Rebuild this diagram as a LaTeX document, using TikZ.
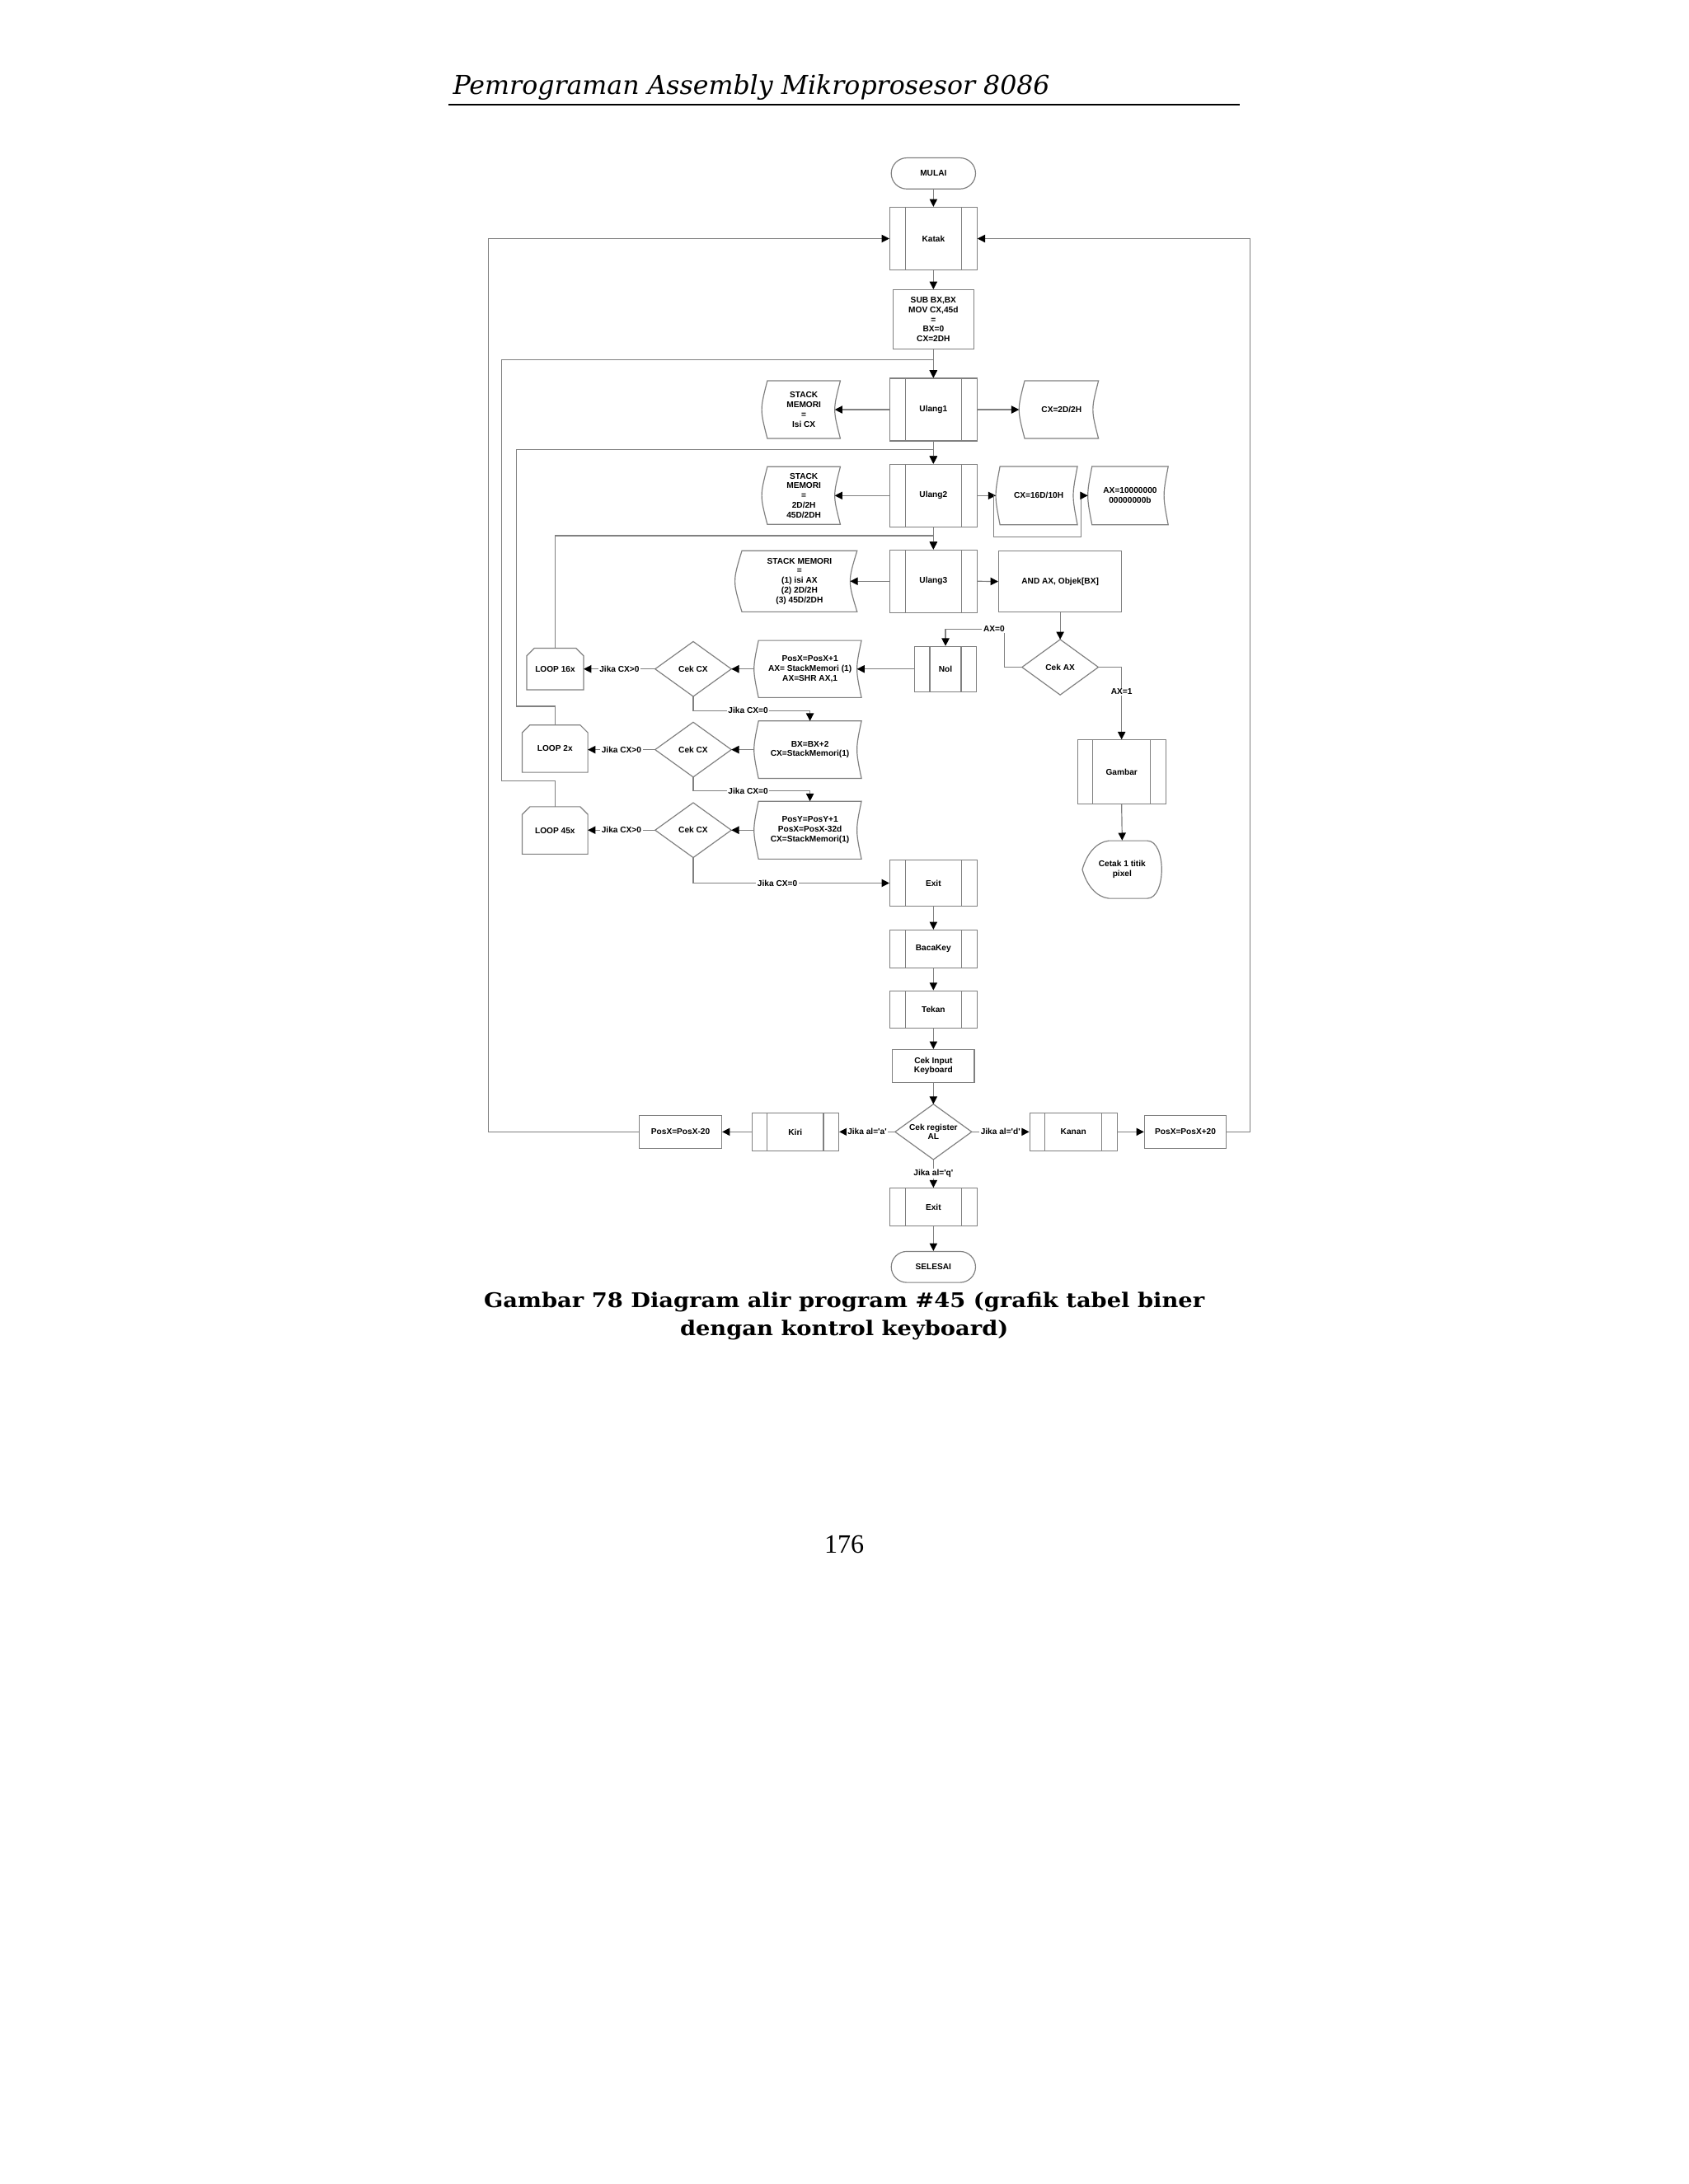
\documentclass[tikz,border=0pt]{standalone}
\usepackage{fontspec}
\usepackage{graphicx}
\usetikzlibrary{arrows.meta,calc,shapes.misc}
\setmainfont{Liberation Serif}
\newfontfamily\dfont{Liberation Sans}
\newfontfamily\hfont{DejaVu Serif}
\definecolor{lg}{HTML}{808080}
\tikzset{
 lbl/.style={font=\dfont\bfseries\fontsize{6}{7}\selectfont, align=center, inner sep=0pt, text=black},
 shp/.style={draw=lg, line width=0.7pt},
 term/.style={lbl, shp, rounded rectangle, minimum width=60.5pt, minimum height=22.3pt},
 pbox/.style={lbl, shp, rectangle},
 predef/.style={pbox, path picture={\draw[lg, line width=0.7pt]
   ([xshift=11pt]path picture bounding box.north west) -- ([xshift=11pt]path picture bounding box.south west)
   ([xshift=-11pt]path picture bounding box.north east) -- ([xshift=-11pt]path picture bounding box.south east);}},
 free/.style={lbl, rectangle},
 conn/.style={draw=lg, line width=0.7pt, -{Triangle[length=5.5pt,width=5.5pt,color=black,fill=black]}},
 tag/.style={lbl, fill=white, inner xsep=1pt, inner ysep=0.6pt},
 captxt/.style={font=\hfont\bfseries\fontsize{14.5}{19}\selectfont, anchor=base, inner sep=0pt},
}
\newcommand\mySD[2]{\draw[shp] (#1.north west) -- (#1.north east)
  .. controls ([xshift=-#2*1.333pt]#1.east) .. (#1.south east) -- (#1.south west)
  .. controls ([xshift=-#2*1.333pt]#1.west) .. (#1.north west) -- cycle;}
\newcommand\myLoop[1]{\draw[shp] (#1.south west) -- ([yshift=-5.5pt]#1.north west) -- ([xshift=5.5pt]#1.north west)
  -- ([xshift=-5.5pt]#1.north east) -- ([yshift=-5.5pt]#1.north east) -- (#1.south east) -- cycle;}
\newcommand\myDia[1]{\draw[shp] (#1.north) -- (#1.east) -- (#1.south) -- (#1.west) -- cycle;}
\begin{document}
\begin{tikzpicture}[x=1pt,y=-1pt]
\fill[white] (0,0) rectangle (1212,1568);
\useasboundingbox (0,0) rectangle (1212,1568);

% header
\node[font=\hfont\itshape\fontsize{18.7}{22}\selectfont, anchor=base west, inner sep=0pt] (hdr) at (325,68) {Pemrograman Assembly Mikroprosesor 8086};
\draw[line width=1.2pt] (322,75) -- (890,75);

% main column
\node[term] (mulai) at (670,124.5) {MULAI};
\node[predef, minimum width=62.5pt, minimum height=45pt] (katak) at (670,171.3) {Katak};
\node[pbox, minimum width=58.2pt, minimum height=42.5pt] (sub) at (670,229.3) {SUB BX,BX\\MOV CX,45d\\=\\BX=0\\CX=2DH};
\node[predef, minimum width=62.5pt, minimum height=45pt] (u1) at (670,294.1) {Ulang1};
\node[free, minimum width=52pt, minimum height=41pt] (st1) at (577,294.1) {STACK\\MEMORI\\=\\Isi CX};
\node[free, minimum width=52.6pt, minimum height=41pt] (cx1) at (762,294.1) {CX=2D/2H};
\node[predef, minimum width=62.5pt, minimum height=45pt] (u2) at (670,355.8) {Ulang2};
\node[free, minimum width=52pt, minimum height=41pt] (st2) at (577,355.8) {STACK\\MEMORI\\=\\2D/2H\\45D/2DH};
\node[free, minimum width=55.2pt, minimum height=41.5pt] (cx2) at (745.6,355.8) {CX=16D/10H};
\node[free, minimum width=54.3pt, minimum height=41.5pt] (ax) at (811.2,355.8) {AX=10000000\\00000000b};
\node[predef, minimum width=62.5pt, minimum height=45pt] (u3) at (670,417.3) {Ulang3};
\node[free, minimum width=82.3pt, minimum height=43.5pt] (st3) at (573.9,417.3) {STACK MEMORI\\=\\(1) isi AX\\(2) 2D/2H\\(3) 45D/2DH};
\node[pbox, minimum width=88.3pt, minimum height=44pt] (and) at (761,417.5) {AND AX, Objek[BX]};
\node[free, minimum width=54.4pt, minimum height=39.4pt] (cekax) at (761,479) {Cek AX};
\node[predef, minimum width=44.5pt, minimum height=32.4pt] (nol) at (678.7,480.3) {Nol};
\node[predef, minimum width=63.4pt, minimum height=45.9pt] (gambar) at (805.1,554.2) {Gambar};
\node[free, minimum width=56.8pt, minimum height=41.4pt] (cetak) at (805.5,624.3) {Cetak 1 titik\\pixel};

\node[free, minimum width=73.5pt, minimum height=40.6pt] (px1) at (581.4,480.3) {PosX=PosX+1\\AX= StackMemori (1)\\AX=SHR AX,1};
\node[free, minimum width=73.5pt, minimum height=40.8pt] (bx) at (581.4,538.2) {BX=BX+2\\CX=StackMemori(1)};
\node[free, minimum width=73.5pt, minimum height=41.1pt] (py) at (581.4,596) {PosY=PosY+1\\PosX=PosX-32d\\CX=StackMemori(1)};
\node[free, minimum width=54.3pt, minimum height=39pt] (cc1) at (497.6,480.3) {Cek CX};
\node[free, minimum width=54.3pt, minimum height=39pt] (cc2) at (497.6,538.2) {Cek CX};
\node[free, minimum width=54.3pt, minimum height=39pt] (cc3) at (497.6,596) {Cek CX};
\node[free, minimum width=40.5pt, minimum height=29.5pt] (lp1) at (398.5,480.3) {LOOP 16x};
\node[free, minimum width=46.7pt, minimum height=33.6pt] (lp2) at (398.4,537.5) {LOOP 2x};
\node[free, minimum width=46.7pt, minimum height=33.6pt] (lp3) at (398.4,596.2) {LOOP 45x};

\node[predef, minimum width=62.5pt, minimum height=33.1pt] (ex1) at (670,634) {Exit};
\node[predef, minimum width=62.5pt, minimum height=27.2pt] (baca) at (670,681.3) {BacaKey};
\node[predef, minimum width=62.5pt, minimum height=27pt] (tekan) at (670,724.8) {Tekan};
\node[pbox, minimum width=58.8pt, minimum height=23.6pt] (cin) at (670,765.3) {Cek Input\\Keyboard};
\node[free, minimum width=54.6pt, minimum height=39.4pt] (cal) at (670,812.6) {Cek register\\AL};
\node[predef, minimum width=62.3pt, minimum height=27.2pt] (kiri) at (570.9,812.6) {Kiri};
\node[pbox, minimum width=59.1pt, minimum height=23.7pt] (pxm) at (488.5,812.6) {PosX=PosX-20};
\node[predef, minimum width=62.7pt, minimum height=27pt] (kanan) at (770.5,812.6) {Kanan};
\node[pbox, minimum width=58.8pt, minimum height=23.7pt] (pxp) at (850.9,812.6) {PosX=PosX+20};
\node[predef, minimum width=62.5pt, minimum height=27.1pt] (ex2) at (670,866.6) {Exit};
\node[term] (selesai) at (670,909.6) {SELESAI};

% outlines of special shapes
\mySD{st1}{4}
\mySD{cx1}{4}
\mySD{st2}{4}
\mySD{cx2}{3}
\mySD{ax}{3}
\mySD{st3}{5}
\mySD{px1}{3.2}
\mySD{bx}{3.2}
\mySD{py}{3.2}
\myDia{cekax}
\myDia{cc1}
\myDia{cc2}
\myDia{cc3}
\myDia{cal}
\myLoop{lp1}
\myLoop{lp2}
\myLoop{lp3}
\draw[shp] (cetak.west) .. controls (780,613) and (787,604.5) .. (796,603.6) -- (823.5,603.6)
  .. controls (837.3,603.6) and (837.3,645) .. (823.5,645) -- (796,645)
  .. controls (787,644.1) and (780,635.6) .. (cetak.west) -- cycle;

% connectors
\draw[conn] (mulai.south) -- (katak.north);
\draw[conn] (katak.south) -- (sub.north);
\draw[conn] (sub.south) -- (u1.north);
\draw[conn] (u1.south) -- (u2.north);
\draw[conn] (u2.south) -- (u3.north);
\draw[conn] (u1.west) -- ([xshift=-4pt]st1.east);
\draw[conn] (u1.east) -- ([xshift=-4pt]cx1.west);
\draw[conn] (u2.west) -- ([xshift=-4pt]st2.east);
\draw[conn] (u2.east) -- ([xshift=-3pt]cx2.west);
\coordinate (br) at (713.5,355.8);
\draw[conn] (br) -- (713.5,385.6) -- (776,385.6) -- (776,355.8) -- ([xshift=-3pt]ax.west);
\draw[conn] (u3.west) -- ([xshift=-5pt]st3.east);
\draw[conn] (u3.east) -- (and.west);
\draw[conn] (and.south) -- (cekax.north);
\draw[conn] (cekax.west) -- (721,479) -- (721,451.7) -| (nol.north);
\node[tag] (ax0) at (713.5,451.7) {AX=0};
\draw[conn] (cekax.east) -| (gambar.north);
\node[tag] (ax1) at (805.1,496.7) {AX=1};
\draw[conn] (gambar.south) -- (cetak.north);
\draw[conn] (nol.west) -- ([xshift=-3.2pt]px1.east);
\draw[conn] ([xshift=-3.2pt]px1.west) -- (cc1.east);
\draw[conn] ([xshift=-3.2pt]bx.west) -- (cc2.east);
\draw[conn] ([xshift=-3.2pt]py.west) -- (cc3.east);
\draw[conn] (cc1.west) -- (lp1.east) node[tag, midway] {Jika CX>0};
\draw[conn] (cc2.west) -- (lp2.east |- cc2.west) node[tag, midway] {Jika CX>0};
\draw[conn] (cc3.west) -- (lp3.east |- cc3.west) node[tag, midway] {Jika CX>0};
\draw[conn] (cc1.south) -- ++(0,10.2) -| (bx.north);
\node[tag] (j0a) at (537,509.9) {Jika CX=0};
\draw[conn] (cc2.south) -- ++(0,10) -| (py.north);
\node[tag] (j0b) at (537,567.7) {Jika CX=0};
\draw[conn] (cc3.south) |- (ex1.west);
\node[tag] (j0c) at (558,634) {Jika CX=0};
\coordinate (j3) at (670,384.6);
\draw[conn] (lp1.north) |- (j3) -- (u3.north);
\coordinate (j2) at (670,322.9);
\draw[conn] (lp2.north) -- ++(0,-13.4) -| (370.5,322.9) -- (j2) -- (u2.north);
\coordinate (j1) at (670,258.4);
\draw[conn] (lp3.north) -- ++(0,-18.4) -| (360,258.4) -- (j1) -- (u1.north);
\draw[conn] (pxm.west) -- (350.6,812.6) |- (katak.west);
\draw[conn] (pxp.east) -- (897.5,812.6) |- (katak.east);
\draw[conn] (ex1.south) -- (baca.north);
\draw[conn] (baca.south) -- (tekan.north);
\draw[conn] (tekan.south) -- (cin.north);
\draw[conn] (cin.south) -- (cal.north);
\draw[conn] (cal.west) -- (kiri.east) node[tag, midway] {Jika al='a'};
\draw[conn] (kiri.west) -- (pxm.east);
\draw[conn] (cal.east) -- (kanan.west) node[tag, midway] {Jika al='d'};
\draw[conn] (kanan.east) -- (pxp.west);
\draw[conn] (cal.south) -- (ex2.north) node[tag, midway] {Jika al='q'};
\draw[conn] (ex2.south) -- (selesai.north);

% caption and page number
\node[captxt] (cap1) at (606,939) {\scalebox{1.115}[1]{Gambar 78 Diagram alir program \#45 (grafik tabel biner}};
\node[captxt] (cap2) at (606,958.6) {\scalebox{1.115}[1]{dengan kontrol keyboard)}};
\node[font=\fontsize{19}{22}\selectfont, anchor=base, inner sep=0pt] (pg) at (606,1115) {176};
\end{tikzpicture}
\end{document}
